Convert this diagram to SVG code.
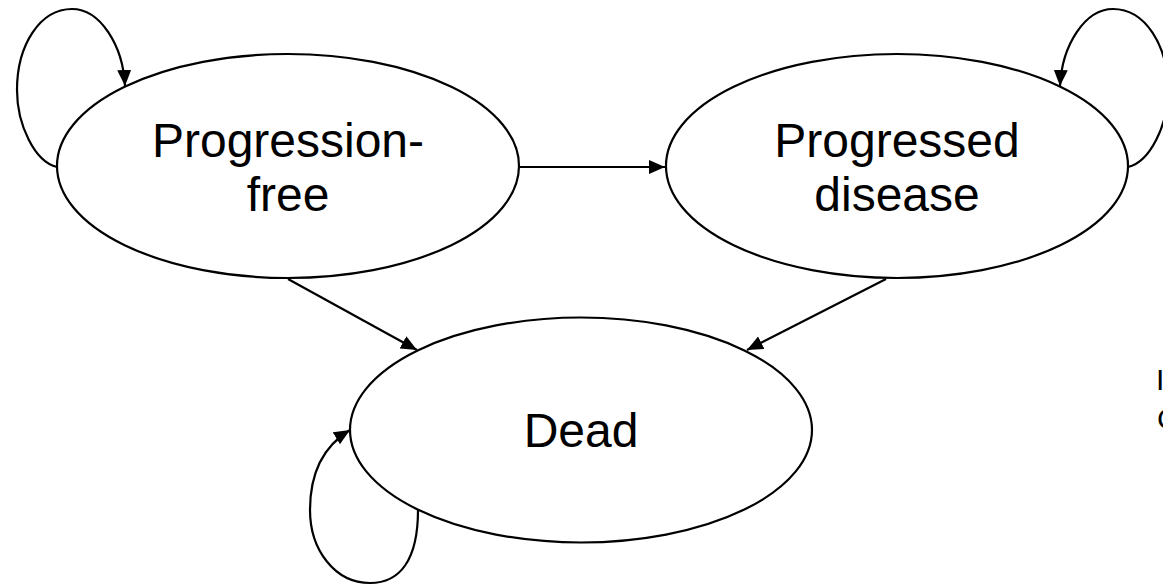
<svg xmlns="http://www.w3.org/2000/svg" width="1163" height="585" viewBox="0 0 1163 585">
  <style>
    .node { fill: #ffffff; stroke: #000000; stroke-width: 2.2; }
    .label { font-family: "Liberation Sans", Arial, sans-serif; font-size: 48px; fill: #000000; text-anchor: middle; }
    .edge { fill: none; stroke: #000000; stroke-width: 2.2; }
    .side { font-family: "Liberation Sans", Arial, sans-serif; font-size: 30px; fill: #000000; }
  </style>
  <defs>
    <marker id="arrow" markerUnits="userSpaceOnUse" markerWidth="17" markerHeight="15" refX="16" refY="7" orient="auto">
      <path d="M0,0 L16,7 L0,14 z" fill="#000000"/>
    </marker>
  </defs>
  <rect width="1163" height="585" fill="#ffffff"/>

  <g id="connectors">
    <path class="edge" d="M520,167 L665,167" marker-end="url(#arrow)"/>
    <path class="edge" d="M288,279 L417,350" marker-end="url(#arrow)"/>
    <path class="edge" d="M886,279 L747,350" marker-end="url(#arrow)"/>
    <path class="edge" d="M57,167 C35,162 17,125 17,90 C17,45 40,9 72,9 C100,9 123,45 125,86" marker-end="url(#arrow)"/>
    <path class="edge" d="M1128,167 C1150,162 1168,125 1168,90 C1168,45 1145,9 1113,9 C1085,9 1062,45 1060,86" marker-end="url(#arrow)"/>
    <path class="edge" d="M418,510 C418,560 400,583 370,583 C335,583 310,550 310,510 C310,475 322,447 350,430" marker-end="url(#arrow)"/>
  </g>

  <g id="node-progression-free">
    <ellipse class="node" cx="288" cy="166" rx="231" ry="112"/>
    <text class="label" x="288" y="157">Progression-</text>
    <text class="label" x="288" y="211">free</text>
  </g>

  <g id="node-progressed-disease">
    <ellipse class="node" cx="897" cy="166" rx="231" ry="112"/>
    <text class="label" x="897" y="157">Progressed</text>
    <text class="label" x="897" y="211">disease</text>
  </g>

  <g id="node-dead">
    <ellipse class="node" cx="581" cy="430" rx="231" ry="112.5"/>
    <text class="label" x="581" y="447">Dead</text>
  </g>

  <g id="side-text">
    <text class="side" x="1156" y="390">I</text>
    <text class="side" x="1157" y="429">C</text>
  </g>
</svg>
